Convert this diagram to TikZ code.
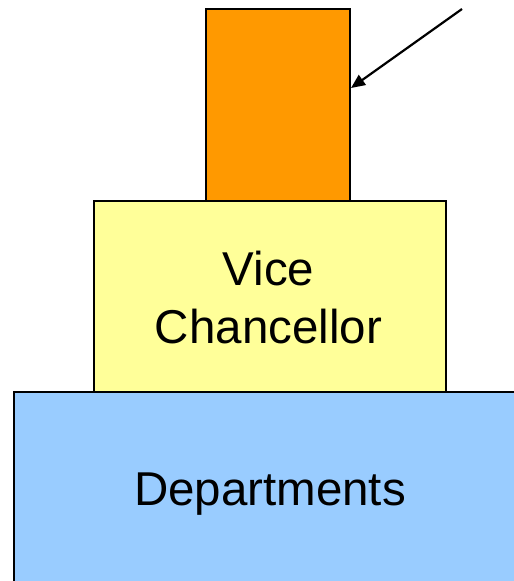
\documentclass[tikz,border=0pt]{standalone}
\usepackage{fontspec}
\setmainfont{Liberation Sans}
\usetikzlibrary{arrows.meta}
\begin{document}
\begin{tikzpicture}[x=1pt,y=-1pt,
  box/.style={draw=black,line width=2pt},
  lbl/.style={font=\fontsize{47.5}{58}\selectfont,align=center,text=black,inner sep=0pt}]
\useasboundingbox (0,0) rectangle (514,581);
\begin{scope}
\clip (0,0) rectangle (514,581);
\draw[box,fill={rgb,255:red,153;green,204;blue,255}] (14,392) rectangle (530,600);
\end{scope}
\draw[box,fill={rgb,255:red,255;green,255;blue,153}] (94,201) rectangle (446,392);
\draw[box,fill={rgb,255:red,255;green,153;blue,0}] (206,9) rectangle (350,201);
\node[lbl] (vc) at (268.5,298) {Vice\\Chancellor};
\node[lbl] (dep) at (270,494) {Departments};
\coordinate (s) at (462,9);
\coordinate (e) at (351,88);
\draw[line width=2.2pt,-{Triangle[length=14pt,width=12pt]}] (s) -- (e);
\end{tikzpicture}
\end{document}
